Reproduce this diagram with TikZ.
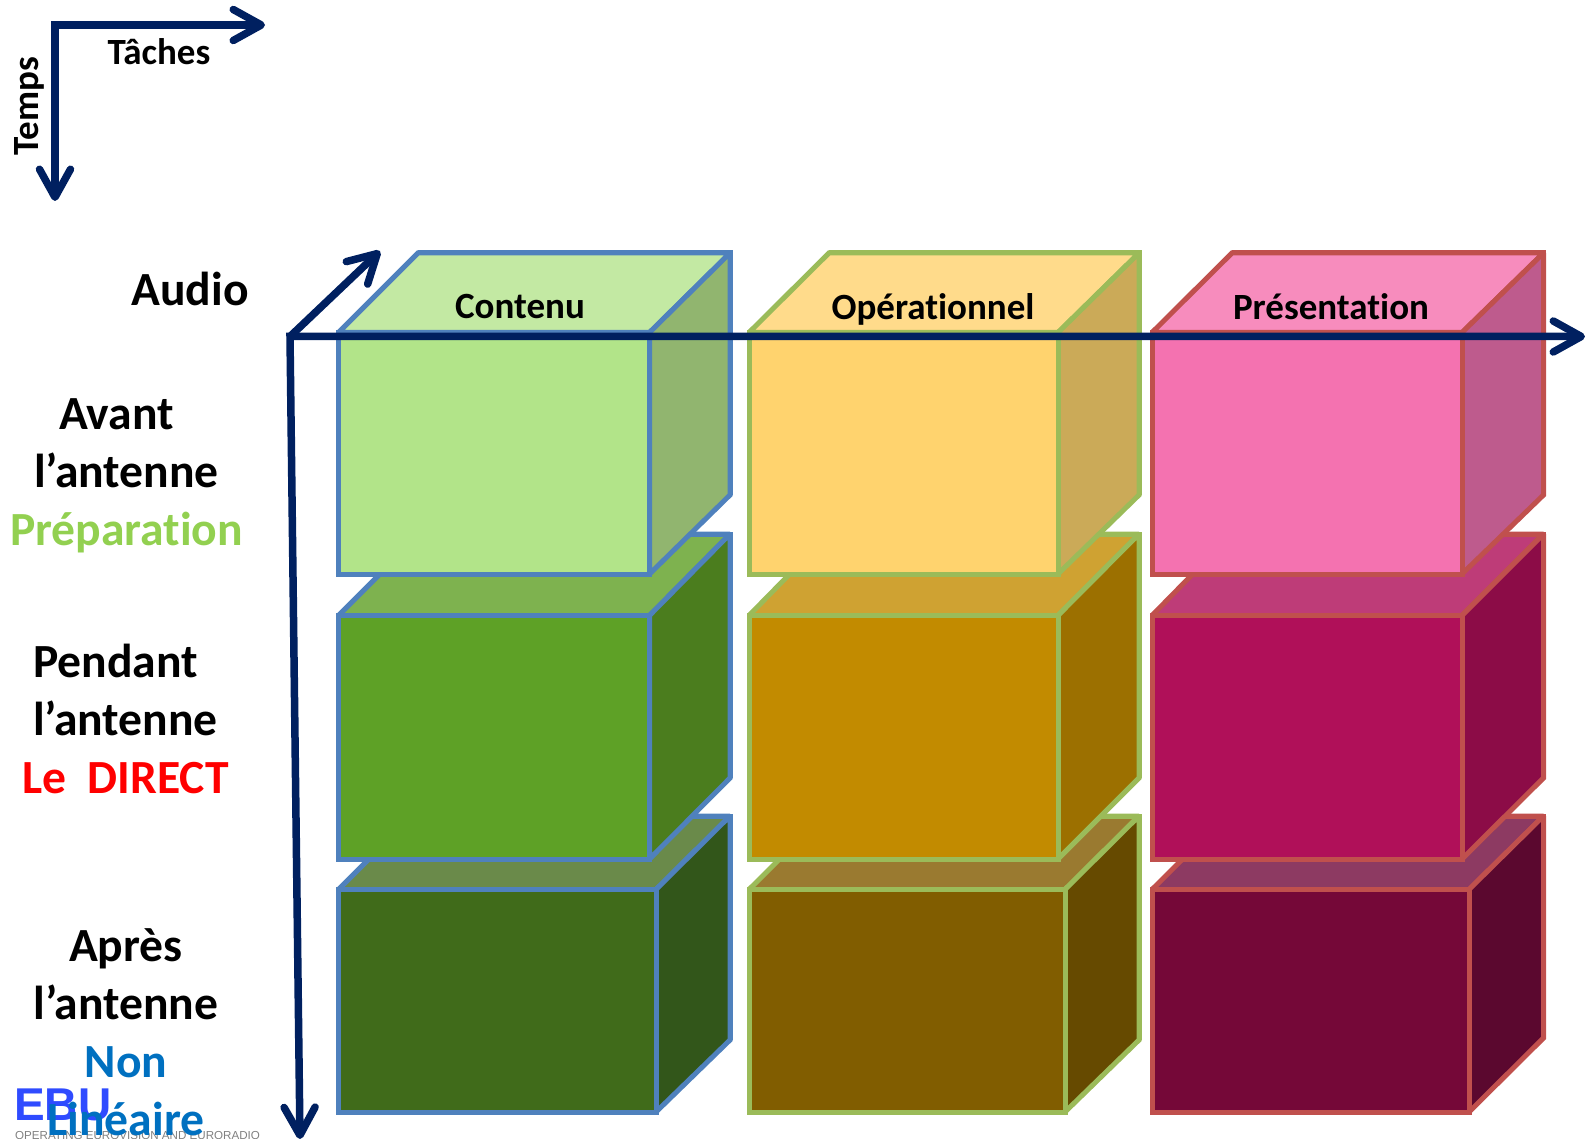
\documentclass[tikz,border=0pt]{standalone}
\usepackage{fontspec}
\setmainfont[Ligatures=NoCommon]{Carlito}
\newfontfamily\logofont{Liberation Sans}
\usepackage{xcolor}
\usepackage{tikz}
\usetikzlibrary{arrows.meta}

\definecolor{navy}{HTML}{002060}
\definecolor{edgeA}{HTML}{4F81BD}
\definecolor{edgeB}{HTML}{9BBB59}
\definecolor{edgeC}{HTML}{C0504D}
\definecolor{logoblue}{HTML}{2F4BFF}
% Contenu
\definecolor{frontAa}{HTML}{B2E489}\definecolor{topAa}{HTML}{C3E9A3}\definecolor{sideAa}{HTML}{91B56F}
\definecolor{frontAb}{HTML}{5EA126}\definecolor{topAb}{HTML}{7EB24F}\definecolor{sideAb}{HTML}{4B7D1E}
\definecolor{frontAc}{HTML}{406B1A}\definecolor{topAc}{HTML}{6A8A4A}\definecolor{sideAc}{HTML}{32561A}
% Operationnel
\definecolor{frontBa}{HTML}{FFD36E}\definecolor{topBa}{HTML}{FFDB8B}\definecolor{sideBa}{HTML}{CBAA58}
\definecolor{frontBb}{HTML}{C28B00}\definecolor{topBb}{HTML}{CFA232}\definecolor{sideBb}{HTML}{9C7000}
\definecolor{frontBc}{HTML}{815D00}\definecolor{topBc}{HTML}{9A7A30}\definecolor{sideBc}{HTML}{664A00}
% Presentation
\definecolor{frontCa}{HTML}{F472B0}\definecolor{topCa}{HTML}{F78CBD}\definecolor{sideCa}{HTML}{BE5B8D}
\definecolor{frontCb}{HTML}{B01059}\definecolor{topCb}{HTML}{BE3C78}\definecolor{sideCb}{HTML}{8C0C47}
\definecolor{frontCc}{HTML}{750838}\definecolor{topCc}{HTML}{8D3A62}\definecolor{sideCc}{HTML}{5B082F}

\begin{document}
\begin{tikzpicture}[
  x=1pt, y=-1pt,
  faceA/.style={draw=edgeA, line width=5pt, miter limit=2},
  faceB/.style={draw=edgeB, line width=5pt, miter limit=2},
  faceC/.style={draw=edgeC, line width=5pt, miter limit=2},
  axis/.style={draw=navy, line width=7.5pt, line join=miter,
               {Straight Barb[length=28pt,width=31pt,round]}-{Straight Barb[length=28pt,width=31pt,round]}},
  arrow/.style={draw=navy, line width=7.5pt, line join=miter,
                -{Straight Barb[length=28pt,width=31pt,round]}},
  head/.style={font=\bfseries\fontsize{37}{37}\selectfont, text=black, inner sep=0pt},
  title/.style={font=\bfseries\fontsize{47.6}{58}\selectfont, text=black, inner sep=0pt, align=center}
]
\useasboundingbox (0,0) rectangle (1585,1139);

% Column 1: Contenu
\draw[faceA, fill=topAc] (338.5,889.5) -- (412,816) -- (730,816) -- (656,889.5) -- cycle;
\draw[faceA, fill=sideAc] (656,889.5) -- (730,816) -- (730,1040) -- (656,1112) -- cycle;
\draw[faceA] (412,816) -- (730,816) -- (730,1040);
\draw[faceA, fill=frontAc] (338.5,889.5) rectangle (656,1112);
\draw[faceA, fill=topAb] (338.5,615.5) -- (420,534) -- (730,534) -- (649.5,615.5) -- cycle;
\draw[faceA, fill=sideAb] (649.5,615.5) -- (730,534) -- (730,778) -- (649.5,859) -- cycle;
\draw[faceA] (420,534) -- (730,534) -- (730,778);
\draw[faceA, fill=frontAb] (338.5,615.5) rectangle (649.5,859);
\draw[faceA, fill=topAa] (338.5,332.5) -- (418,253) -- (730,253) -- (649.5,332.5) -- cycle;
\draw[faceA, fill=sideAa] (649.5,332.5) -- (730,253) -- (730,495) -- (649.5,574) -- cycle;
\draw[faceA] (418,253) -- (730,253) -- (730,495);
\draw[faceA, fill=frontAa] (338.5,332.5) rectangle (649.5,574);

% Column 2: Operationnel
\draw[faceB, fill=topBc] (749,889.5) -- (823,816) -- (1139,816) -- (1065,889.5) -- cycle;
\draw[faceB, fill=sideBc] (1065,889.5) -- (1139,816) -- (1139,1040) -- (1065,1112) -- cycle;
\draw[faceB] (823,816) -- (1139,816) -- (1139,1040);
\draw[faceB, fill=frontBc] (749,889.5) rectangle (1065,1112);
\draw[faceB, fill=topBb] (749,615.5) -- (829,534) -- (1139,534) -- (1058,615.5) -- cycle;
\draw[faceB, fill=sideBb] (1058,615.5) -- (1139,534) -- (1139,778) -- (1058,859) -- cycle;
\draw[faceB] (829,534) -- (1139,534) -- (1139,778);
\draw[faceB, fill=frontBb] (749,615.5) rectangle (1058,859);
\draw[faceB, fill=topBa] (749,332.5) -- (829,253) -- (1139,253) -- (1058,332.5) -- cycle;
\draw[faceB, fill=sideBa] (1058,332.5) -- (1139,253) -- (1139,495) -- (1058,574) -- cycle;
\draw[faceB] (829,253) -- (1139,253) -- (1139,495);
\draw[faceB, fill=frontBa] (749,332.5) rectangle (1058,574);

% Column 3: Presentation
\draw[faceC, fill=topCc] (1152,889.5) -- (1226,816) -- (1543.5,816) -- (1469,889.5) -- cycle;
\draw[faceC, fill=sideCc] (1469,889.5) -- (1543.5,816) -- (1543.5,1038) -- (1469,1112) -- cycle;
\draw[faceC] (1226,816) -- (1543.5,816) -- (1543.5,1038);
\draw[faceC, fill=frontCc] (1152,889.5) rectangle (1469,1112);
\draw[faceC, fill=topCb] (1152,615.5) -- (1232,534) -- (1543.5,534) -- (1462,615.5) -- cycle;
\draw[faceC, fill=sideCb] (1462,615.5) -- (1543.5,534) -- (1543.5,778) -- (1462,859) -- cycle;
\draw[faceC] (1232,534) -- (1543.5,534) -- (1543.5,778);
\draw[faceC, fill=frontCb] (1152,615.5) rectangle (1462,859);
\draw[faceC, fill=topCa] (1152,332.5) -- (1232,253) -- (1543.5,253) -- (1462,332.5) -- cycle;
\draw[faceC, fill=sideCa] (1462,332.5) -- (1543.5,253) -- (1543.5,495) -- (1462,574) -- cycle;
\draw[faceC] (1232,253) -- (1543.5,253) -- (1543.5,495);
\draw[faceC, fill=frontCa] (1152,332.5) rectangle (1462,574);

% Face labels
\node[head] (contenu) at (520,307) {Contenu};
\node[head] (operationnel) at (933,309) {Opérationnel};
\node[head] (presentation) at (1331,307) {Présentation};

% Small axes
\coordinate (smallcorner) at (55,25);
\coordinate (smalltime) at (55,201);
\coordinate (smalltask) at (265,25);
\draw[axis] (smalltime) -- (smallcorner) -- (smalltask);
\node[head] (taches) at (159,52) {Tâches};
\node[head, rotate=90] (temps) at (29,106) {Temps};

% Large axes
\coordinate (origin) at (290,336.5);
\coordinate (timeend) at (300,1139);
\coordinate (taskend) at (1585,336.5);
\coordinate (audioend) at (380,251);
\draw[axis] (timeend) -- (origin) -- (taskend);
\draw[arrow] (origin) -- (audioend);

% Logo
\node[inner sep=0pt, anchor=west, text=logoblue, font=\logofont\bfseries\fontsize{46}{46}\selectfont] (ebu) at (14,1105) {EBU};
\node[inner sep=0pt, anchor=west, text=gray, font=\logofont\fontsize{11.6}{11.6}\selectfont] (ebusub) at (15,1135) {OPERATING EUROVISION AND EURORADIO};

% Row labels
\node[title] (audio) at (190,289) {Audio};
\node[title] (avant) at (126.5,476) {Avant\hspace*{20pt}\\l’antenne\\\textcolor[HTML]{92D050}{Préparation}};
\node[title] (pendant) at (125.5,719) {Pendant\hspace*{20pt}\\l’antenne\\\textcolor{red}{Le~~DIRECT}};
\node[title] (apres) at (126,1032.5) {Après\\l’antenne\\\textcolor[HTML]{0070C0}{Non}\\\textcolor[HTML]{0070C0}{Linéaire}};

\end{tikzpicture}
\end{document}
